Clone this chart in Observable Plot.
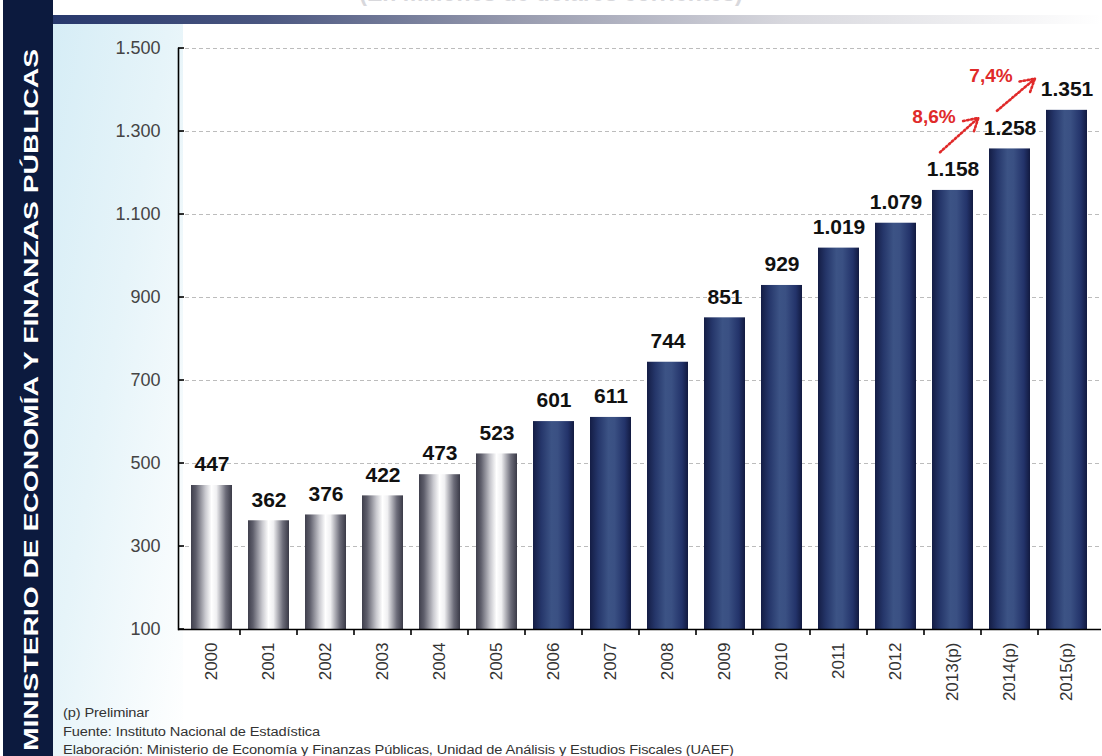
<!DOCTYPE html>
<html>
<head>
<meta charset="utf-8">
<script src="https://cdn.jsdelivr.net/npm/d3@7"></script>
<script src="https://cdn.jsdelivr.net/npm/@observablehq/plot@0.6"></script>
<style>
  html, body { margin: 0; padding: 0; background: #fff; }
  #page { position: relative; width: 1102px; height: 756px; overflow: hidden; background: #fff; font-family: "Liberation Sans", Arial, sans-serif; }
  #panel { position: absolute; left: 53px; top: 24px; width: 130px; height: 732px;
    background: linear-gradient(100deg, #d6edf6 0%, #e6f4f9 45%, rgba(255,255,255,0) 100%); }
  #topbar { position: absolute; left: 53px; top: 15px; width: 1049px; height: 9px;
    background: linear-gradient(90deg, #27386c 0%, #4a5680 20%, #9a9db0 45%, #d8d8de 70%, #ffffff 100%); }
  #title { position: absolute; left: 0; width: 1102px; top: -20px; text-align: center; font-size: 23px; font-weight: bold; color: #d8d8dc; }
  #side { position: absolute; left: 0; top: 0; }
  #chart { position: absolute; left: 0; top: 0; }
  #notes { position: absolute; left: 63px; top: 704px; font-size: 12.5px; line-height: 18.5px; color: #333; letter-spacing: -0.1px;
    transform: scaleX(1.17); transform-origin: left top; white-space: nowrap; }
</style>
</head>
<body>
<div id="page">
  <div id="panel"></div>
  <div id="topbar"></div>
  <div id="title">(En millones de dólares corrientes)</div>
  <svg id="side" width="56" height="756">
    <rect x="3" y="0" width="50" height="756" fill="#0c1a3e"></rect>
    <text transform="translate(38,400) rotate(-90)" text-anchor="middle" fill="#fff" font-weight="bold" font-size="21" font-family="Liberation Sans, Arial, sans-serif" textLength="702" lengthAdjust="spacingAndGlyphs">MINISTERIO DE ECONOMÍA Y FINANZAS PÚBLICAS</text>
  </svg>
  <div id="chart"></div>
  <div id="notes">(p) Preliminar<br>Fuente: Instituto Nacional de Estadística<br>Elaboración: Ministerio de Economía y Finanzas Públicas, Unidad de Análisis y Estudios Fiscales (UAEF)</div>
</div>
<script>
// ---- data ----
const years = ["2000","2001","2002","2003","2004","2005","2006","2007","2008","2009","2010","2011","2012","2013(p)","2014(p)","2015(p)"];
const values = [447,362,376,422,473,523,601,611,744,851,929,1019,1079,1158,1258,1351];
const grayYears = ["2000","2001","2002","2003","2004","2005"];
const yTicks = [100,300,500,700,900,1100,1300,1500];
const growthFrom = ["2013(p)","2014(p)"];
const growthTo = ["2014(p)","2015(p)"];
const growthLabels = ["8,6%","7,4%"];

const data = years.map((year, i) => ({year, value: values[i], gray: grayYears.includes(year)}));
const valueOf = Object.fromEntries(data.map(d => [d.year, d.value]));
const growth = growthFrom.map((f, i) => ({from: f, to: growthTo[i], label: growthLabels[i]}));

const fmt = d3.formatLocale({decimal: ",", thousands: ".", grouping: [3], currency: ["", ""]}).format(",d");

const chart = Plot.plot({
  width: 1102,
  height: 700,
  marginLeft: 178,
  marginRight: 1,
  marginTop: 48,
  marginBottom: 71,
  style: {background: "transparent", fontFamily: "Liberation Sans, Arial, sans-serif", overflow: "visible"},
  x: {domain: years, paddingInner: 0.28, paddingOuter: 0.15, label: null},
  y: {domain: [100, 1500], label: null},
  marks: [
    Plot.gridY(yTicks.filter(d => d > 100), {stroke: "#a0a0a0", strokeOpacity: 0.7, strokeDasharray: "4,3"}),
    Plot.barY(data.filter(d => d.gray), {x: "year", y1: 100, y2: "value", fill: "url(#gGray)"}),
    Plot.barY(data.filter(d => !d.gray), {x: "year", y1: 100, y2: "value", fill: "url(#gNavy)"}),
    Plot.ruleY([100], {stroke: "#000", strokeWidth: 1.6}),
    Plot.frame({anchor: "left", stroke: "#000", strokeWidth: 1.6}),
    Plot.axisY({ticks: yTicks, tickSize: 0, tickPadding: 18, tickFormat: fmt, fontSize: 18, color: "#444"}),
    Plot.axisX({tickSize: 0, tickRotate: -90, tickPadding: 13, fontSize: 17, color: "#333"}),
    Plot.text(data, {x: "year", y: "value", text: d => fmt(d.value), dy: -21, fontSize: 21, fontWeight: "bold", fill: "#111"}),
    Plot.arrow(growth, {
      x1: "from", x2: "to",
      y1: d => valueOf[d.from] + 92,
      y2: d => valueOf[d.to] + 115,
      dx: -13, insetEnd: 25, headLength: 9,
      stroke: "#e02a2a", strokeWidth: 2.6, strokeDasharray: "1.6,2.4"
    }),
    Plot.text(growth, {x: "from", y: d => valueOf[d.from] + 176, text: "label", dx: -19, fontSize: 19, fontWeight: "bold", fill: "#e02a2a"})
  ]
});

document.getElementById("chart").appendChild(chart);

// gradients for the bar fills
const svg = d3.select(chart);
const defs = svg.insert("defs", ":first-child");
const gGray = defs.append("linearGradient").attr("id", "gGray").attr("x1", 0).attr("x2", 1).attr("y1", 0).attr("y2", 0);
[[0, "#3f3f4c"], [0.12, "#5e5e6b"], [0.35, "#c9c9cf"], [0.5, "#ffffff"], [0.62, "#f0f0f2"], [0.85, "#6c6c79"], [1, "#3a3a47"]]
  .forEach(([o, c]) => gGray.append("stop").attr("offset", o).attr("stop-color", c));
const gNavy = defs.append("linearGradient").attr("id", "gNavy").attr("x1", 0).attr("x2", 1).attr("y1", 0).attr("y2", 0);
[[0, "#141d45"], [0.2, "#25366a"], [0.45, "#3c5385"], [0.6, "#3a5083"], [0.85, "#23336a"], [1, "#121a40"]]
  .forEach(([o, c]) => gNavy.append("stop").attr("offset", o).attr("stop-color", c));

// inward y-axis ticks and x-axis ticks at band boundaries, positioned by Plot's scales
const xs = chart.scale("x"), ys = chart.scale("y");
const x0 = 178;
const tg = svg.append("g").attr("stroke", "#000").attr("stroke-width", 1.6);
yTicks.forEach(v => {
  const y = ys.apply(v);
  tg.append("line").attr("x1", x0).attr("x2", x0 + 6).attr("y1", y).attr("y2", y);
});
const y100 = ys.apply(100);
years.forEach((yr, i) => {
  if (i === years.length - 1) return;
  const a = xs.apply(yr) + xs.bandwidth, b = xs.apply(years[i + 1]);
  const xm = (a + b) / 2;
  tg.append("line").attr("x1", xm).attr("x2", xm).attr("y1", y100).attr("y2", y100 + 6);
});
</script>
</body>
</html>
